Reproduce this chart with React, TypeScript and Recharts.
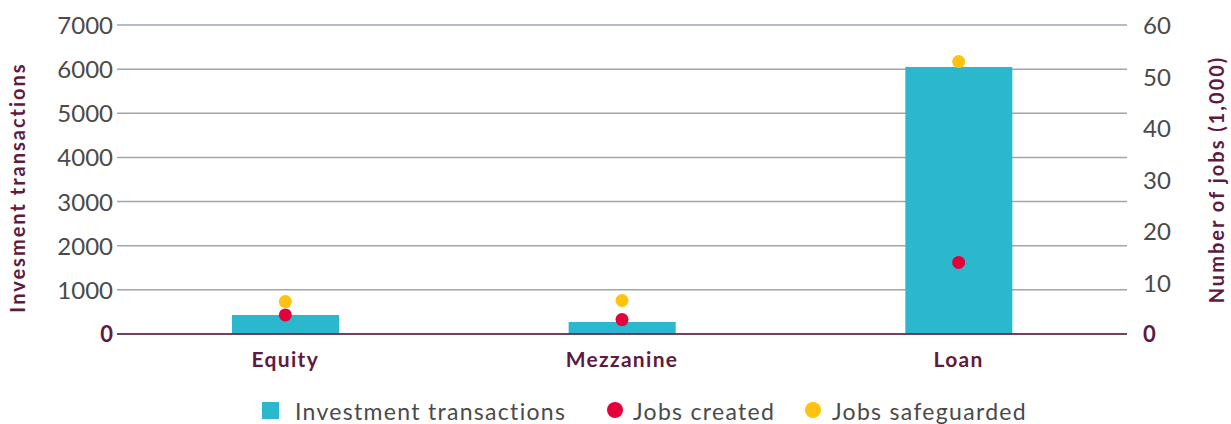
import { ComposedChart, Bar, Line, XAxis, YAxis, CartesianGrid, Legend } from 'recharts';

const categories = ['Equity', 'Mezzanine', 'Loan'];
const investmentTransactions = [430, 270, 6050];
const jobsCreated = [3.7, 2.8, 13.9];
const jobsSafeguarded = [6.3, 6.5, 52.9];
const leftTicks = [0, 1000, 2000, 3000, 4000, 5000, 6000, 7000];
const rightTicks = [0, 10, 20, 30, 40, 50, 60];

const data = categories.map((name, i) => ({
    name,
    transactions: investmentTransactions[i],
    created: jobsCreated[i],
    safeguarded: jobsSafeguarded[i],
}));

const FONT = 'Lato, "Noto Sans", sans-serif';
const MAROON = '#5e1a3f';
const GREY = '#4a4a4a';
const TEAL = '#2bb7cd';
const RED = '#e4003b';
const YELLOW = '#ffc20e';

function NumTick(props: any) {
    const { x, y, payload, textAnchor } = props;
    const zero = payload.value === 0;
    return (
        <text
            x={x}
            y={y}
            dy={zero ? 8 : 9}
            textAnchor={textAnchor}
            fontFamily={FONT}
            fontSize={zero ? 22 : 24}
            fontWeight={zero ? 700 : 400}
            fill={zero ? MAROON : GREY}
        >
            {payload.value}
        </text>
    );
}

function CatTick(props: any) {
    const { x, y, payload } = props;
    return (
        <text
            x={x}
            y={y}
            dy={21}
            textAnchor="middle"
            fontFamily={FONT}
            fontSize={21}
            fontWeight={700}
            letterSpacing={1.3}
            fill={MAROON}
        >
            {payload.value}
        </text>
    );
}

function LegendContent() {
    const text = {
        fontFamily: FONT,
        fontSize: 23,
        letterSpacing: 1.3,
        color: GREY,
        position: 'absolute' as const,
        top: 14,
        lineHeight: '26px',
        whiteSpace: 'nowrap' as const,
    };
    return (
        <div style={{ position: 'relative', height: 40, width: 1231 }}>
            <div style={{ position: 'absolute', left: 262, top: 18, width: 17, height: 17, background: TEAL }} />
            <span style={{ ...text, left: 295 }}>Investment transactions</span>
            <div style={{ position: 'absolute', left: 607, top: 18, width: 16, height: 16, borderRadius: '50%', background: RED }} />
            <span style={{ ...text, left: 633 }}>Jobs created</span>
            <div style={{ position: 'absolute', left: 805, top: 18, width: 16, height: 16, borderRadius: '50%', background: YELLOW }} />
            <span style={{ ...text, left: 832 }}>Jobs safeguarded</span>
        </div>
    );
}

const titleStyle = { fontFamily: FONT, fontSize: 20, fontWeight: 700, fill: MAROON, textAnchor: 'middle', letterSpacing: 2 };

export default function App() {
    return (
        <div style={{ position: 'absolute', left: 0, top: 0 }}>
            <ComposedChart width={1231} height={424} data={data} margin={{ top: 25, right: 0, left: 0, bottom: 0 }}>
                <CartesianGrid yAxisId="left" vertical={false} stroke="#9ea6b0" strokeWidth={1.5} />
                <XAxis
                    dataKey="name"
                    height={50}
                    tick={<CatTick />}
                    tickLine={false}
                    tickSize={0}
                    tickMargin={12}
                    axisLine={{ stroke: MAROON, strokeWidth: 1.5 }}
                />
                <YAxis
                    yAxisId="left"
                    width={117}
                    domain={[0, 7000]}
                    ticks={leftTicks}
                    axisLine={false}
                    tickLine={false}
                    tickSize={0}
                    tickMargin={4}
                    tick={<NumTick />}
                    label={{
                        value: 'Invesment transactions',
                        angle: -90,
                        position: 'insideLeft',
                        offset: 0,
                        dx: 18,
                        dy: 8,
                        style: titleStyle,
                    }}
                />
                <YAxis
                    yAxisId="right"
                    orientation="right"
                    width={104}
                    domain={[0, 60]}
                    ticks={rightTicks}
                    axisLine={false}
                    tickLine={false}
                    tickSize={0}
                    tickMargin={16}
                    tick={<NumTick />}
                    label={{
                        value: 'Number of jobs (1,000)',
                        angle: -90,
                        position: 'insideRight',
                        offset: 0,
                        dx: -14,
                        style: titleStyle,
                    }}
                />
                <Legend verticalAlign="bottom" align="left" content={<LegendContent />} wrapperStyle={{ left: 0, width: 1231 }} />
                <Bar yAxisId="left" dataKey="transactions" fill={TEAL} barSize={107} isAnimationActive={false} />
                <Line
                    yAxisId="right"
                    dataKey="created"
                    stroke="none"
                    dot={{ r: 6.5, fill: RED, stroke: 'none' }}
                    activeDot={false}
                    isAnimationActive={false}
                />
                <Line
                    yAxisId="right"
                    dataKey="safeguarded"
                    stroke="none"
                    dot={{ r: 6.5, fill: YELLOW, stroke: 'none' }}
                    activeDot={false}
                    isAnimationActive={false}
                />
            </ComposedChart>
        </div>
    );
}
